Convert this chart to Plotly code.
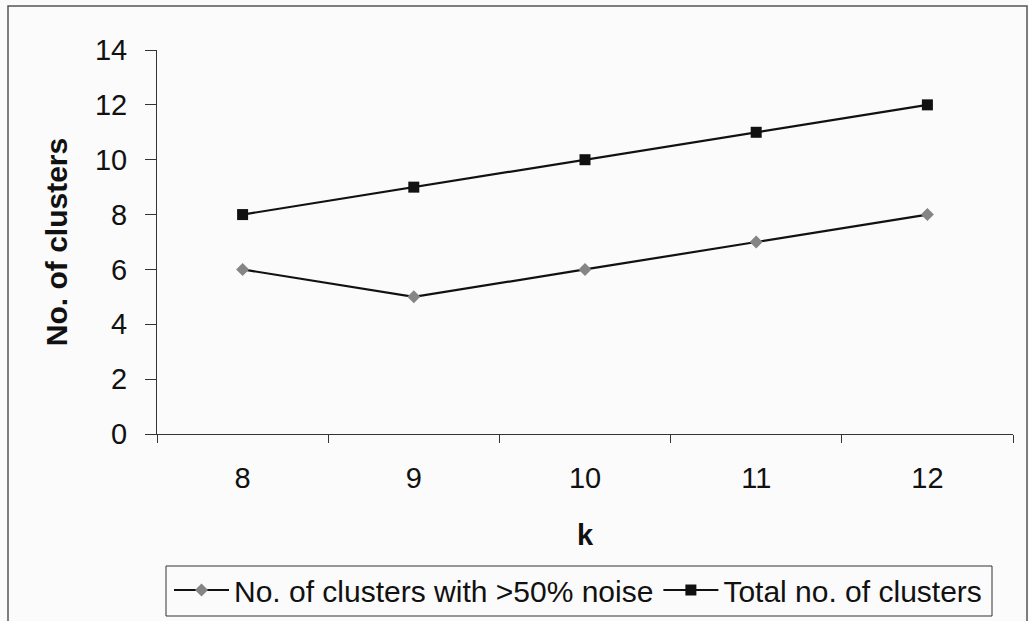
import plotly.graph_objects as go

# Data
k_values = ["8", "9", "10", "11", "12"]
noisy_clusters = [6, 5, 6, 7, 8]
total_clusters = [8, 9, 10, 11, 12]
y_ticks = [0, 2, 4, 6, 8, 10, 12, 14]

W, H = 1029, 621
ML, MR, MT, MB = 157, 16, 50, 187
PW, PH = W - ML - MR, H - MT - MB

def px_x(x):
    return (x - ML) / PW

def px_y(y):
    return (H - MB - y) / PH

FONT = "Liberation Sans, Arial, sans-serif"

fig = go.Figure()
fig.add_trace(go.Scatter(
    x=k_values, y=noisy_clusters, mode="lines+markers",
    name="No. of clusters with >50% noise",
    line=dict(color="#111111", width=2.2),
    marker=dict(symbol="diamond", size=10, color="#858585",
                line=dict(width=0)),
))
fig.add_trace(go.Scatter(
    x=k_values, y=total_clusters, mode="lines+markers",
    name="Total no. of clusters",
    line=dict(color="#111111", width=2.2),
    marker=dict(symbol="square", size=11, color="#111111",
                line=dict(width=0)),
))

fig.update_layout(
    width=W, height=H,
    margin=dict(l=ML, r=MR, t=MT, b=MB, autoexpand=False),
    paper_bgcolor="#fbfbfb", plot_bgcolor="#fbfbfb",
    font=dict(family=FONT, size=28, color="#111111"),
    showlegend=True,
    legend=dict(
        orientation="h", x=px_x(578), xanchor="center",
        y=px_y(590), yanchor="middle",
        borderwidth=0,
        bgcolor="rgba(0,0,0,0)",
        font=dict(size=30), itemwidth=55,
        tracegroupgap=0,
    ),
    xaxis=dict(
        type="category", range=[-0.5, 4.5],
        tickson="boundaries", ticks="outside", ticklen=8,
        tickcolor="#333333", tickwidth=1,
        showline=True, linecolor="#333333", linewidth=1,
        showgrid=False, zeroline=False,
        tickfont=dict(size=29), ticklabelstandoff=18,
        title=dict(text="<b>k</b>", font=dict(size=29), standoff=31),
    ),
    yaxis=dict(
        range=[0, 14], tickvals=y_ticks,
        ticks="outside", ticklen=11, tickcolor="#333333", tickwidth=1,
        showline=True, linecolor="#333333", linewidth=1,
        showgrid=False, zeroline=False,
        tickfont=dict(size=29), ticklabelstandoff=12,
        title=dict(text="<b>No. of clusters</b>", font=dict(size=30),
                   standoff=18),
    ),
    shapes=[
        # outer chart frame
        dict(type="rect", xref="paper", yref="paper",
             x0=px_x(8), x1=px_x(1027), y0=px_y(640), y1=px_y(6),
             line=dict(color="#555555", width=1.5),
             fillcolor="rgba(0,0,0,0)", layer="below"),
        # legend frame
        dict(type="rect", xref="paper", yref="paper",
             x0=px_x(166), x1=px_x(992), y0=px_y(616), y1=px_y(566),
             line=dict(color="#333333", width=1),
             fillcolor="rgba(0,0,0,0)", layer="above"),
    ],
)

fig.write_html("out.html")
